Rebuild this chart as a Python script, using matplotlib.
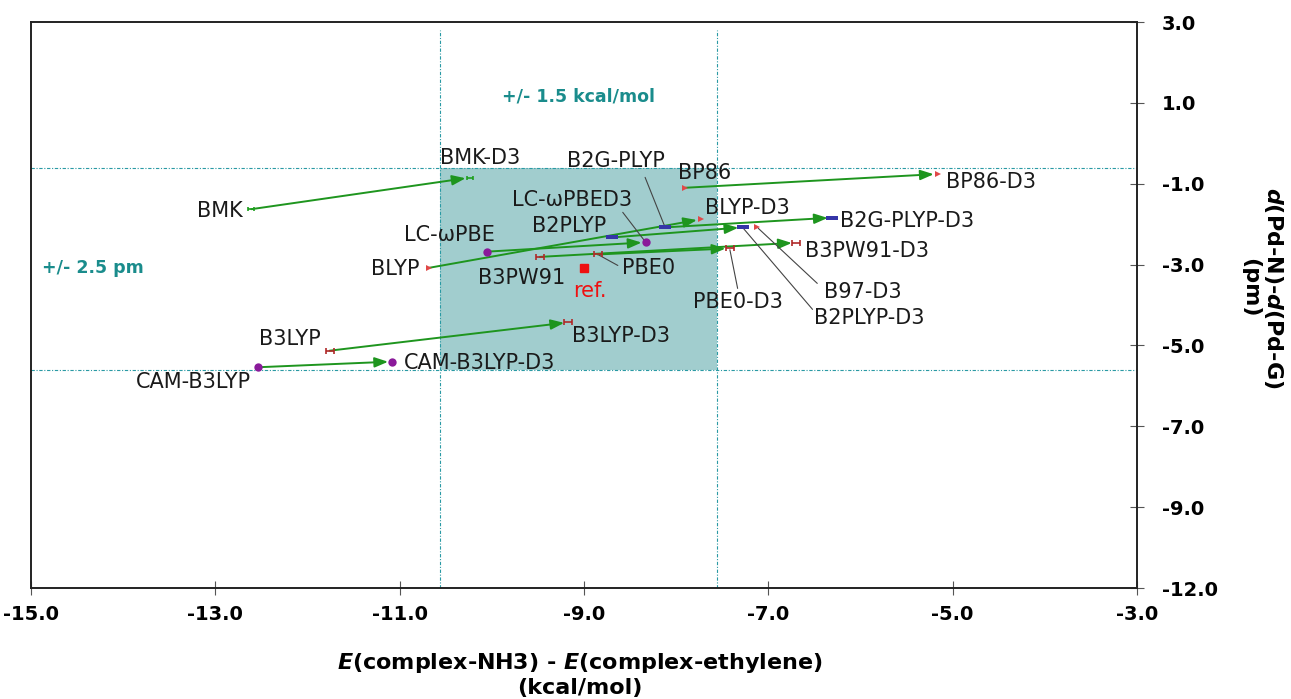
import matplotlib
matplotlib.use("Agg")
import matplotlib.pyplot as plt
from matplotlib.path import Path

plt.rcParams['font.family'] = ['DejaVu Sans']
plt.rcParams['mathtext.fontset'] = 'dejavusans'

# ---------------- data ----------------
# functional pairs: name without / with D3 correction, (x = energy diff, y = distance diff)
pair_names = ["BMK", "BLYP", "BP86", "B2G-PLYP", "B2PLYP", "LC-ωPBE",
              "B3PW91", "PBE0", "B3LYP", "CAM-B3LYP"]
pair_d3_names = ["BMK-D3", "BLYP-D3", "BP86-D3", "B2G-PLYP-D3", "B2PLYP-D3", "LC-ωPBED3",
                 "B3PW91-D3", "PBE0-D3", "B3LYP-D3", "CAM-B3LYP-D3"]
x_plain = [-12.61, -10.68, -7.90, -8.12, -8.70, -10.05, -9.48, -8.85, -11.76, -12.54]
y_plain = [-1.63, -3.08, -1.10, -2.08, -2.33, -2.68, -2.81, -2.75, -5.13, -5.54]
x_d3 = [-10.24, -7.73, -5.16, -6.31, -7.28, -8.33, -6.70, -7.42, -9.17, -11.08]
y_d3 = [-0.85, -1.88, -0.76, -1.84, -2.08, -2.45, -2.46, -2.60, -4.43, -5.40]
pair_family = ["bmk", "gga", "gga", "dh", "dh", "rsh", "hyb", "hyb", "hyb", "rsh"]

single_names = ["B97-D3"]
single_x = [-7.12]
single_y = [-2.08]
single_family = ["gga"]

ref_name = "ref."
ref_x = -9.0
ref_y = -3.08

# acceptance window around the reference
x_tol = 1.5       # kcal/mol
y_tol = 2.5       # pm
box_center_x = -9.06
box_center_y = -3.12

x_ticks = [-15, -13, -11, -9, -7, -5, -3]
x_tick_labels = ["-15.0", "-13.0", "-11.0", "-9.0", "-7.0", "-5.0", "-3.0"]
y_ticks = [3, 1, -1, -3, -5, -7, -9, -11]
y_tick_labels = ["3.0", "1.0", "-1.0", "-3.0", "-5.0", "-7.0", "-9.0", "-12.0"]

# ---------------- styles ----------------
W, H, DPI = 1291, 699, 100
fig = plt.figure(figsize=(W / DPI, H / DPI), dpi=DPI)
ax = fig.add_axes([31 / W, 1 - 588 / H, (1137 - 31) / W, (588 - 22) / H])
ax.set_xlim(-15, -3)
ax.set_ylim(-11, 3)

teal = "#2a9aa4"
shade = "#a1cdce"
arrow_green = "#1e951e"

hbar = Path([(-1, 0), (1, 0), (-1, -0.7), (-1, 0.7), (1, -0.7), (1, 0.7)],
            [Path.MOVETO, Path.LINETO, Path.MOVETO, Path.LINETO, Path.MOVETO, Path.LINETO])
dash = Path([(-1, -0.35), (1, -0.35), (1, 0.35), (-1, 0.35), (-1, -0.35)],
            [Path.MOVETO, Path.LINETO, Path.LINETO, Path.LINETO, Path.CLOSEPOLY])
styles = {
    "gga": dict(marker=">", color="#e04848", ms=5, mew=0),
    "hyb": dict(marker=hbar, color="#b02a2a", ms=6, mew=1.2),
    "rsh": dict(marker="o", color="#8a1a9a", ms=6, mew=0),
    "dh": dict(marker=dash, color="#3535a8", ms=9, mew=0),
    "bmk": dict(marker=hbar, color="#20a020", ms=5, mew=1.2),
}

# window
ax.axvspan(box_center_x - x_tol, box_center_x + x_tol,
           ymin=(box_center_y - y_tol + 11) / 14, ymax=(box_center_y + y_tol + 11) / 14,
           color=shade, lw=0, zorder=0)
ls = (0, (3, 1.5, 1, 1.5))
for xv in (box_center_x - x_tol, box_center_x + x_tol):
    ax.axvline(xv, ymax=0.986, color=teal, lw=0.8, ls=ls, zorder=1)
for yv in (box_center_y - y_tol, box_center_y + y_tol):
    ax.axhline(yv, color=teal, lw=0.8, ls=ls, zorder=1)

# label offsets (pixels) and alignment, and optional leader line offsets
lab_fs = 15
plain_lab = {
    "BMK": ((-9, -2), "right", None),
    "BLYP": ((-10, -1), "right", None),
    "BP86": ((-7, 15), "left", None),
    "B2G-PLYP": ((-49, 66), "center", (-20, 50)),
    "B2PLYP": ((-43, 11), "center", None),
    "LC-ωPBE": ((-38, 17), "center", None),
    "B3PW91": ((-18, -21), "center", None),
    "PBE0": ((24, -14), "left", (20, -11)),
    "B3LYP": ((-40, 12), "center", None),
    "CAM-B3LYP": ((-64, -15), "center", None),
}
d3_lab = {
    "BMK-D3": ((10, 20), "center", None),
    "BLYP-D3": ((4, 11), "left", None),
    "BP86-D3": ((8, -8), "left", None),
    "B2G-PLYP-D3": ((8, -3), "left", None),
    "B2PLYP-D3": ((71, -91), "left", (70, -82)),
    "LC-ωPBED3": ((-74, 42), "center", (-23, 30)),
    "B3PW91-D3": ((9, -8), "left", None),
    "PBE0-D3": ((8, -54), "center", (8, -40)),
    "B3LYP-D3": ((4, -14), "left", None),
    "CAM-B3LYP-D3": ((12, -1), "left", None),
}
single_lab = {"B97-D3": ((67, -65), "left", (60, -56))}


def put_label(name, x, y, spec, color="#1a1a1a"):
    (dx, dy), ha, lead = spec
    ax.annotate(name, (x, y), xytext=(dx, dy), textcoords="offset pixels",
                ha=ha, va="center", fontsize=lab_fs, color=color, zorder=6)
    if lead is not None:
        ax.annotate("", (x, y), xytext=lead, textcoords="offset pixels",
                    arrowprops=dict(arrowstyle="-", color="#444444", lw=0.8,
                                    shrinkA=0, shrinkB=1), zorder=4)


for i in range(len(pair_names)):
    st = styles[pair_family[i]]
    ax.plot([x_plain[i]], [y_plain[i]], ls="none", zorder=5,
            marker=st["marker"], ms=st["ms"], color=st["color"], mec=st["color"], mew=st["mew"])
    ax.plot([x_d3[i]], [y_d3[i]], ls="none", zorder=5,
            marker=st["marker"], ms=st["ms"], color=st["color"], mec=st["color"], mew=st["mew"])
    ax.annotate("", (x_d3[i], y_d3[i]), xytext=(x_plain[i], y_plain[i]),
                arrowprops=dict(arrowstyle="-|>,head_length=0.8,head_width=0.3",
                                color=arrow_green, lw=1.4, shrinkA=0, shrinkB=3,
                                mutation_scale=10), zorder=3)
    put_label(pair_names[i], x_plain[i], y_plain[i], plain_lab[pair_names[i]])
    put_label(pair_d3_names[i], x_d3[i], y_d3[i], d3_lab[pair_d3_names[i]])

for i in range(len(single_names)):
    st = styles[single_family[i]]
    ax.plot([single_x[i]], [single_y[i]], ls="none", zorder=5,
            marker=st["marker"], ms=st["ms"], color=st["color"], mew=st["mew"])
    put_label(single_names[i], single_x[i], single_y[i], single_lab[single_names[i]])

ax.plot([ref_x], [ref_y], ls="none", marker="s", ms=6, color="#ee1111", zorder=5)
ax.annotate(ref_name, (ref_x, ref_y), xytext=(6, -23), textcoords="offset pixels",
            ha="center", va="center", fontsize=lab_fs, color="#ee1111")

# window captions
ax.text(box_center_x, 1.15, "+/- 1.5 kcal/mol", color="#1a8c8c", fontsize=12.5,
        fontweight="bold", ha="center", va="center")
ax.text(-14.88, box_center_y + 0.04, "+/- 2.5 pm", color="#1a8c8c", fontsize=12.5,
        fontweight="bold", ha="left", va="center")

# axes styling
for sp in ax.spines.values():
    sp.set_linewidth(1.4)
    sp.set_color("#222222")
ax.set_xticks(x_ticks)
ax.set_xticklabels(x_tick_labels, fontsize=14, fontweight="bold")
ax.yaxis.tick_right()
ax.set_yticks(y_ticks)
ax.set_yticklabels(y_tick_labels, fontsize=14, fontweight="bold")
ax.tick_params(axis="x", direction="inout", length=10, width=0.8, pad=7, color="#555555")
ax.tick_params(axis="y", direction="inout", length=10, width=0.8, pad=13, color="#555555")

fig.text(580 / W, 1 - 663 / H,
         r"$\mathbfit{E}$(complex-NH3) - $\mathbfit{E}$(complex-ethylene)",
         ha="center", va="center", fontsize=16, fontweight="bold")
fig.text(580 / W, 1 - 688 / H, "(kcal/mol)", ha="center", va="center",
         fontsize=16, fontweight="bold")
fig.text(1274 / W, 1 - 288 / H, r"$\mathbfit{d}$(Pd-N)-$\mathbfit{d}$(Pd-G)",
         rotation=270, ha="center", va="center", fontsize=16, fontweight="bold")
fig.text(1250 / W, 1 - 288 / H, "(pm)", rotation=270, ha="center", va="center",
         fontsize=16, fontweight="bold")

fig.savefig("out.png", dpi=DPI)
